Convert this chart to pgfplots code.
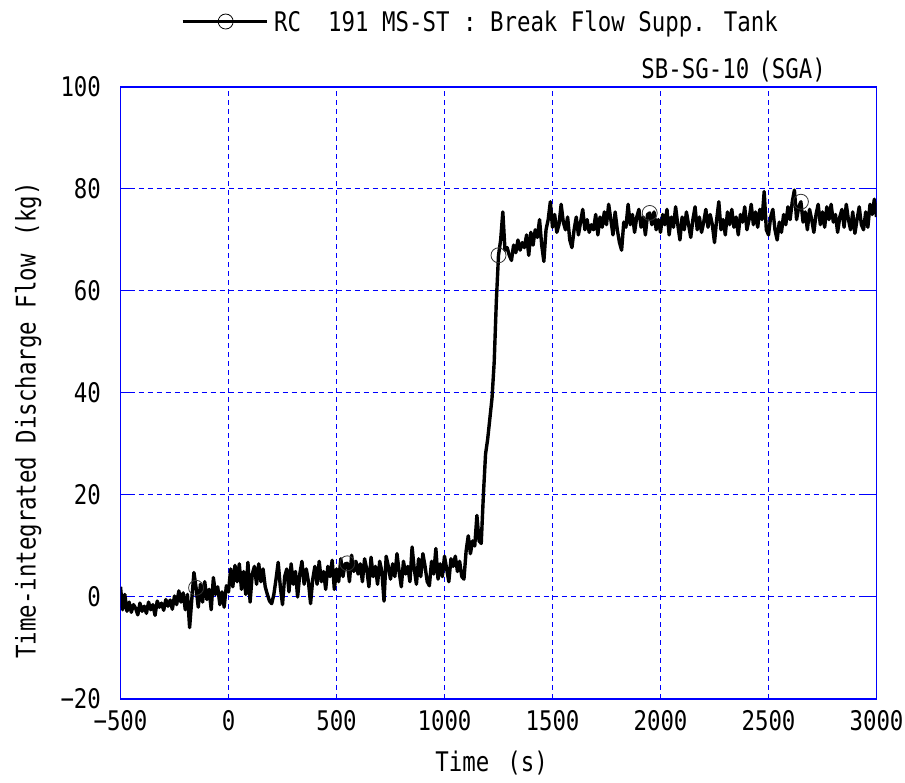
\documentclass[border=0pt]{standalone}
\usepackage{fontspec}
\setmainfont[FakeStretch=0.83]{DejaVu Sans Mono}
\usepackage{pgfplots}
\pgfplotsset{compat=1.18}
\definecolor{gblue}{RGB}{0,0,255}
\newcommand\bigf{\fontsize{27bp}{31bp}\selectfont}
\begin{document}
\begin{tikzpicture}
\useasboundingbox (0,0) rectangle (905bp,783bp);
\begin{axis}[
 name=ax,
 at={(120.5bp,84bp)}, anchor=south west,
 scale only axis, width=756bp, height=612bp,
 xmin=-500,xmax=3000,ymin=-20,ymax=100,
 xtick={-500,0,500,1000,1500,2000,2500,3000},
 xticklabels={−500,0,500,1000,1500,2000,2500,3000},
 ytick={-20,0,20,40,60,80,100},
 yticklabels={−20,0,20,40,60,80,100},
 tick label style={font=\bigf},
 yticklabel style={anchor=east, xshift=-16bp},
 xticklabel style={anchor=north, yshift=-8bp},
 axis line style={draw=gblue, line width=1.2bp},
 grid=major,
 every axis grid/.style={draw=gblue},
 major grid style={draw=gblue, dash pattern=on 5bp off 4bp, line width=1bp},
 tick align=inside, ytick pos=both, xtick pos=bottom,
 major tick length=14bp,
 every tick/.style={draw=gblue, line width=1bp},
 x tick style={draw=none},
 xlabel={Time\hspace{18bp}(s)},
 xlabel style={font=\bigf, at={(axis description cs:0.491,-0.1038)}, anchor=center},
 ylabel={Time-integrated Discharge Flow\hspace{18bp}(kg)},
 ylabel style={font=\bigf, at={(axis description cs:-0.122,0.455)}, anchor=center},
 legend style={at={(axis description cs:0.08,1.107)}, anchor=west, draw=none, fill=none, font=\bigf, inner sep=0pt, nodes={inner xsep=6bp}},
 legend image code/.code={\draw[black, line width=3bp] (0bp,0bp) -- (84bp,0bp); \draw[black, line width=0.8bp] (43bp,0bp) circle (7.5bp);},
]
\addplot[black, line width=3.4bp, line join=round, mark=o, mark indices={36,106,176,246,316}, mark options={line width=0.8bp, black!80, solid}, mark size=7.5bp] coordinates {
(-500,2.0) (-490,-2.5) (-480,0.5) (-470,-2.8) (-460,-1.0) (-450,-3.0) (-440,-1.5) (-430,-2.2) (-420,-3.5) (-410,-1.2)
(-400,-2.8) (-390,-1.8) (-380,-3.2) (-370,-1.0) (-360,-2.5) (-350,-1.5) (-340,-3.6) (-330,-0.8) (-320,-2.0) (-310,-1.2)
(-300,-2.6) (-290,-0.5) (-280,-1.8) (-270,-0.6) (-260,-2.4) (-250,0.2) (-240,-1.5) (-230,1.2) (-220,-1.0) (-210,0.8)
(-200,-2.5) (-190,0.5) (-180,-6.0) (-170,-0.5) (-160,4.8) (-150,1.8) (-140,-2.0) (-130,2.5) (-120,-1.0) (-110,3.0)
(-100,-0.5) (-90,1.5) (-80,-2.5) (-70,3.8) (-60,0.5) (-50,2.0) (-40,-1.5) (-30,1.0) (-20,-2.0) (-10,2.2)
(0,1.0) (10,5.5) (20,2.0) (30,6.2) (40,3.0) (50,6.5) (60,1.5) (70,5.0) (80,0.5) (90,6.8)
(100,-1.0) (110,4.5) (120,6.0) (130,2.5) (140,6.5) (150,3.0) (160,5.5) (170,2.0) (180,0.5) (190,-0.8)
(200,-1.3) (210,0.5) (220,3.5) (230,6.8) (240,2.0) (250,-1.5) (260,4.0) (270,5.5) (280,1.0) (290,6.5)
(300,2.5) (310,5.0) (320,0.0) (330,4.5) (340,7.0) (350,2.5) (360,5.5) (370,3.0) (380,-1.3) (390,3.5)
(400,6.0) (410,2.5) (420,7.0) (430,3.0) (440,5.0) (450,1.5) (460,6.0) (470,4.0) (480,7.2) (490,1.5)
(500,5.5) (510,3.0) (520,7.5) (530,4.0) (540,6.5) (550,6.6) (560,3.0) (570,8.2) (580,5.0) (590,7.0)
(600,4.5) (610,6.5) (620,3.0) (630,7.5) (640,5.5) (650,2.0) (660,7.8) (670,4.0) (680,6.0) (690,2.5)
(700,7.0) (710,5.0) (720,-0.8) (730,8.0) (740,6.0) (750,3.5) (760,6.5) (770,4.0) (780,8.5) (790,5.0)
(800,2.0) (810,7.0) (820,4.5) (830,6.0) (840,3.0) (850,9.8) (860,5.5) (870,2.5) (880,7.5) (890,4.0)
(900,8.5) (910,6.0) (920,3.0) (930,2.2) (940,7.0) (950,4.5) (960,9.5) (970,3.5) (980,6.5) (990,4.0)
(1000,8.0) (1010,5.5) (1020,3.0) (1030,7.5) (1040,6.0) (1050,8.0) (1060,5.0) (1070,7.0) (1080,4.0) (1090,3.5)
(1100,9.0) (1110,12.0) (1120,8.5) (1130,11.0) (1140,10.0) (1150,16.0) (1160,11.0) (1170,10.5) (1180,20.0) (1190,28.0)
(1200,31.0) (1210,35.0) (1220,39.0) (1230,46.0) (1240,58.0) (1250,67.0) (1260,70.0) (1270,75.5) (1280,68.0) (1290,68.5)
(1300,67.0) (1310,66.0) (1320,69.0) (1330,67.5) (1340,70.0) (1350,68.0) (1360,69.5) (1370,68.5) (1380,71.0) (1390,67.0)
(1400,71.5) (1410,69.0) (1420,72.0) (1430,70.5) (1440,74.0) (1450,69.0) (1460,65.8) (1470,72.0) (1480,74.0) (1490,77.5)
(1500,72.5) (1510,75.0) (1520,71.5) (1530,73.0) (1540,77.0) (1550,73.5) (1560,72.0) (1570,74.5) (1580,70.0) (1590,68.5)
(1600,72.0) (1610,74.5) (1620,71.0) (1630,73.5) (1640,76.0) (1650,72.0) (1660,74.0) (1670,71.5) (1680,73.0) (1690,72.0)
(1700,75.0) (1710,71.0) (1720,74.5) (1730,72.5) (1740,75.5) (1750,73.0) (1760,77.0) (1770,74.0) (1780,71.0) (1790,75.5)
(1800,72.0) (1810,69.5) (1820,68.0) (1830,73.5) (1840,72.5) (1850,77.0) (1860,73.0) (1870,75.0) (1880,71.5) (1890,74.5)
(1900,76.0) (1910,72.5) (1920,74.5) (1930,71.0) (1940,75.0) (1950,75.3) (1960,73.0) (1970,75.5) (1980,72.0) (1990,74.0)
(2000,71.5) (2010,75.0) (2020,73.0) (2030,76.0) (2040,71.0) (2050,74.5) (2060,72.5) (2070,76.5) (2080,73.0) (2090,70.0)
(2100,74.5) (2110,72.0) (2120,75.5) (2130,73.0) (2140,70.5) (2150,74.0) (2160,76.5) (2170,72.0) (2180,74.5) (2190,71.5)
(2200,73.5) (2210,76.0) (2220,72.5) (2230,75.0) (2240,73.0) (2250,69.5) (2260,74.0) (2270,77.5) (2280,72.0) (2290,74.0)
(2300,71.0) (2310,75.5) (2320,73.0) (2330,76.0) (2340,72.5) (2350,74.5) (2360,71.0) (2370,75.0) (2380,73.5) (2390,76.5)
(2400,72.0) (2410,74.0) (2420,77.0) (2430,73.0) (2440,75.5) (2450,72.5) (2460,76.0) (2470,74.0) (2480,79.5) (2490,72.0)
(2500,71.0) (2510,74.5) (2520,76.0) (2530,72.0) (2540,70.0) (2550,73.5) (2560,71.5) (2570,75.0) (2580,73.0) (2590,76.5)
(2600,74.0) (2610,77.5) (2620,79.8) (2630,74.0) (2640,76.5) (2650,77.5) (2660,73.5) (2670,75.5) (2680,72.0) (2690,76.0)
(2700,74.0) (2710,71.5) (2720,75.0) (2730,77.0) (2740,73.0) (2750,75.5) (2760,72.5) (2770,76.5) (2780,74.0) (2790,77.0)
(2800,73.5) (2810,75.0) (2820,71.5) (2830,74.5) (2840,76.0) (2850,72.5) (2860,77.0) (2870,74.0) (2880,72.0) (2890,75.5)
(2900,71.3) (2910,74.0) (2920,76.5) (2930,73.0) (2940,72.0) (2950,75.5) (2960,72.5) (2970,77.0) (2980,75.0) (2990,78.0)
(3000,74.5)
};
\addlegendentry{RC\ \ 191 MS-ST : Break Flow Supp. Tank}
\end{axis}
\node[font=\bigf, anchor=east, inner sep=0pt] at ([xshift=-50.5bp, yshift=17bp]ax.north east) {SB-SG-10\hspace{9bp}(SGA)};
\end{tikzpicture}
\end{document}
